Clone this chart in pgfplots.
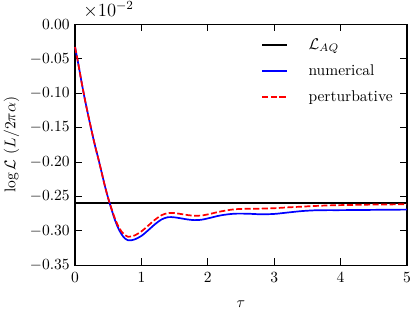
\documentclass[border=0pt]{standalone}
\usepackage{pgfplots}
\pgfplotsset{compat=1.18}
\begin{document}
\begin{tikzpicture}
\begin{axis}[
  at={(0,0)}, anchor=south west,
  scale only axis, width=214pt, height=155.3pt,
  xmin=0, xmax=5, ymin=-0.35, ymax=0,
  xtick={0,1,2,3,4,5},
  ytick={-0.35,-0.30,-0.25,-0.20,-0.15,-0.10,-0.05,0},
  scaled y ticks=false,
  yticklabel style={/pgf/number format/.cd, fixed, fixed zerofill, precision=2},
  xticklabel style={yshift=-1.5pt},
  tick align=inside,
  major tick length=4.5pt,
  every tick/.style={black, line width=0.6pt},
  axis line style={line width=0.85pt},
  xlabel={$\tau$},
  xlabel style={yshift=-4.5pt},
  ylabel={$\log\mathcal{L}\ (L/2\pi\alpha)$},
  clip=false,
  legend cell align=left,
  legend image code/.code={\draw[#1] (0pt,0pt) -- (16pt,0pt);},
  legend style={draw=none, fill=none, at={(1,1)}, anchor=north east,
    xshift=-4pt, yshift=-5pt, row sep=4.3pt,
    /tikz/every odd column/.append style={column sep=11pt}},
]
\addplot[black, line width=1.5pt] coordinates {(0,-0.26) (5,-0.26)};
\addlegendentry{$\mathcal{L}_{AQ}$}
\addplot[blue, line width=1.1pt, smooth] coordinates {
(0.00,-0.033) (0.05,-0.058) (0.10,-0.085) (0.15,-0.110) (0.20,-0.133)
(0.25,-0.155) (0.30,-0.176) (0.35,-0.195) (0.40,-0.215) (0.45,-0.235)
(0.50,-0.253) (0.55,-0.269) (0.60,-0.284) (0.65,-0.296) (0.70,-0.305)
(0.75,-0.311) (0.80,-0.3138) (0.85,-0.3137) (0.90,-0.3125) (1.00,-0.3074)
(1.10,-0.2994) (1.20,-0.2908) (1.30,-0.2837) (1.40,-0.2802) (1.50,-0.2805)
(1.60,-0.2820) (1.70,-0.2836) (1.80,-0.2845) (1.90,-0.2840) (2.00,-0.2820)
(2.20,-0.2775) (2.40,-0.2752) (2.60,-0.2752) (2.80,-0.2760) (3.00,-0.2755)
(3.20,-0.2735) (3.40,-0.2715) (3.60,-0.2703) (3.80,-0.2700) (4.00,-0.2700)
(4.50,-0.2696) (5.00,-0.2692)};
\addlegendentry{numerical}
\addplot[red, line width=1.1pt, smooth, dash pattern=on 3.9pt off 1.6pt] coordinates {
(0.00,-0.033) (0.05,-0.058) (0.10,-0.085) (0.15,-0.110) (0.20,-0.133)
(0.25,-0.155) (0.30,-0.176) (0.35,-0.195) (0.40,-0.215) (0.45,-0.235)
(0.50,-0.253) (0.55,-0.268) (0.60,-0.282) (0.65,-0.293) (0.70,-0.301)
(0.75,-0.306) (0.80,-0.3087) (0.85,-0.3082) (0.90,-0.3067) (1.00,-0.3008)
(1.10,-0.2927) (1.20,-0.2842) (1.30,-0.2775) (1.40,-0.2742) (1.50,-0.2743)
(1.60,-0.2757) (1.70,-0.2772) (1.80,-0.2782) (1.90,-0.2778) (2.00,-0.2762)
(2.20,-0.2718) (2.40,-0.2688) (2.60,-0.2680) (2.80,-0.2678) (3.00,-0.2672)
(3.20,-0.2660) (3.40,-0.2650) (3.60,-0.2640) (3.80,-0.2632) (4.00,-0.2627)
(4.50,-0.2619) (5.00,-0.2615)};
\addlegendentry{perturbative}
\end{axis}
\node[anchor=base west, inner sep=0pt, font=\large] at (5.2pt,160.2pt) {$\times10^{-2}$};
\pgfresetboundingbox
\path (-48.4pt,-30.3pt) rectangle (219.2pt,171pt);
\end{tikzpicture}
\end{document}
